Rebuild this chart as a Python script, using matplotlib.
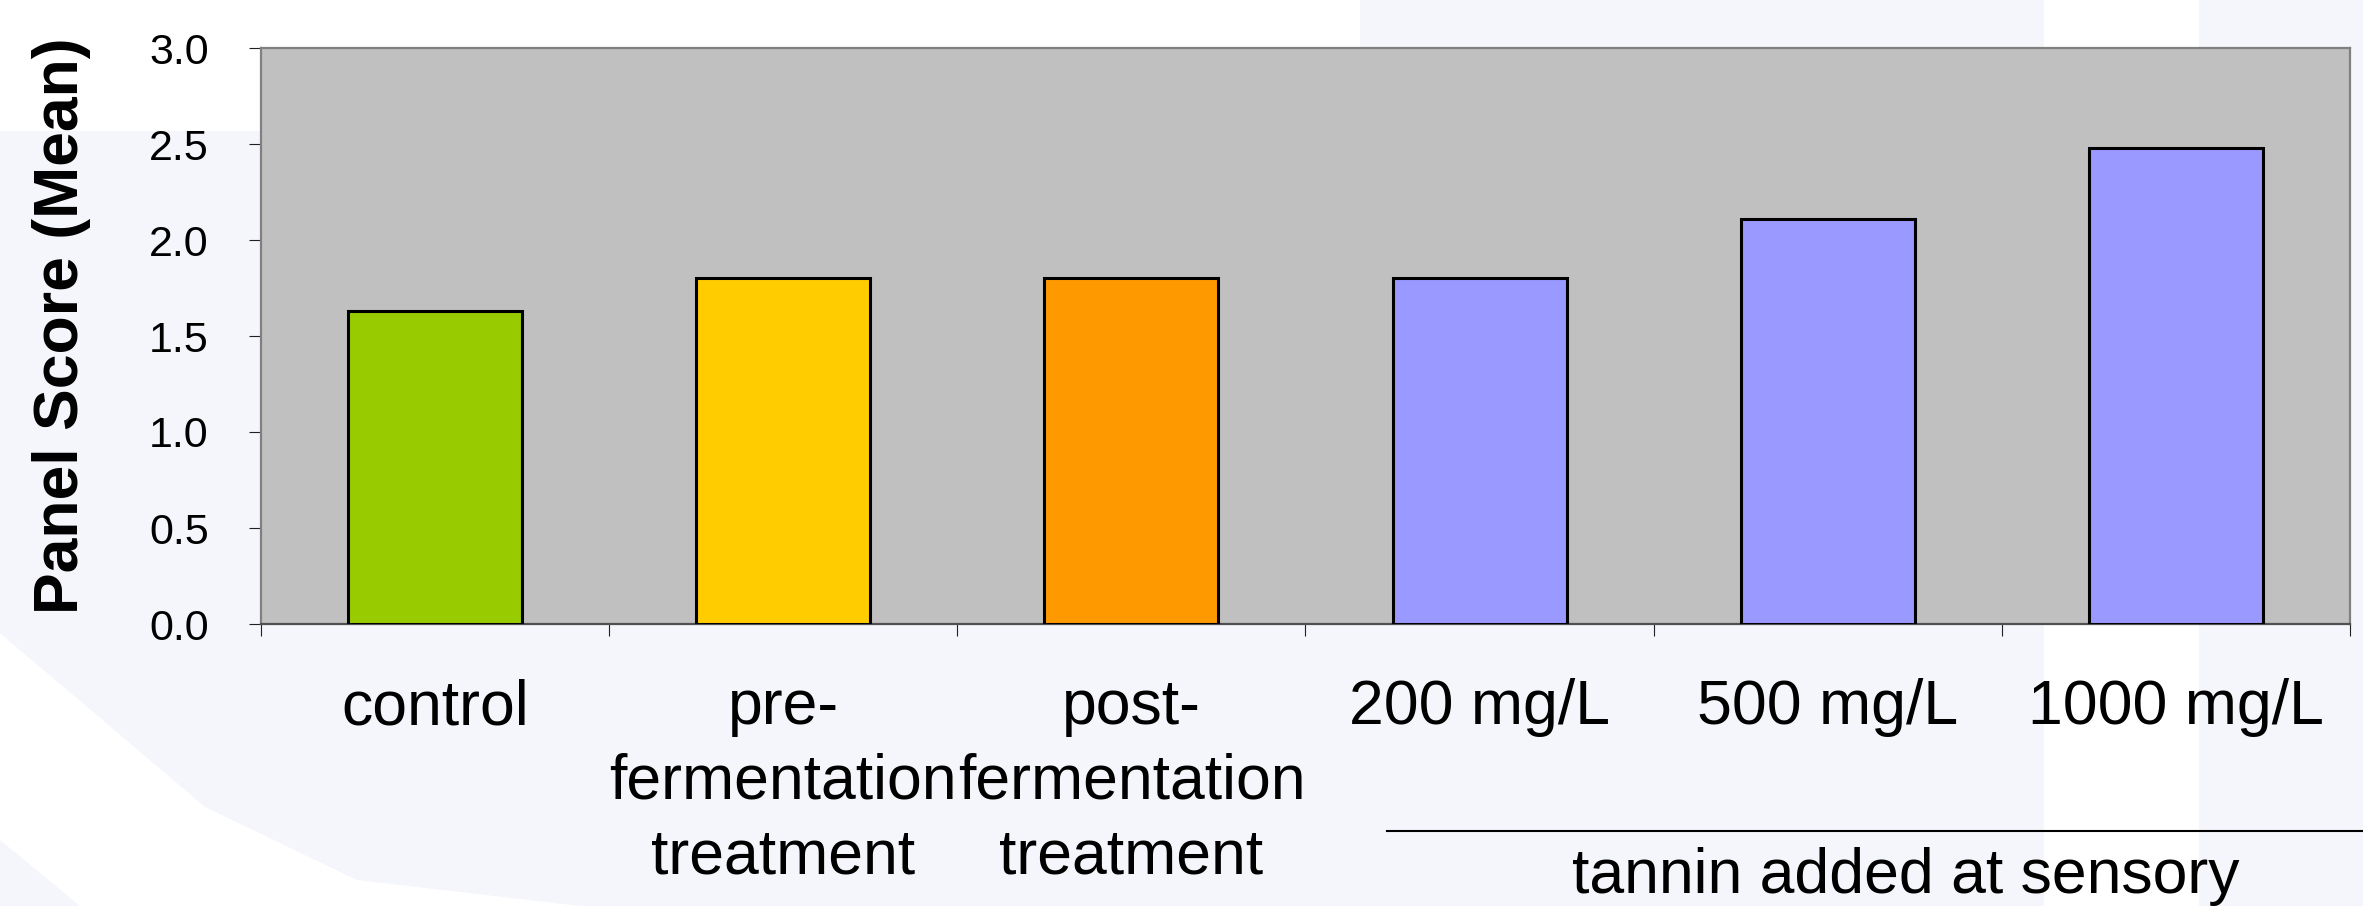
import numpy as np
import matplotlib
matplotlib.use('Agg')
import matplotlib.pyplot as plt
from matplotlib.patches import Polygon
from matplotlib.lines import Line2D

plt.rcParams['font.family'] = ['Liberation Sans', 'DejaVu Sans']

# data
categories = ['control', 'pre-\nfermentation\ntreatment', 'post-\nfermentation\ntreatment',
              '200 mg/L', '500 mg/L', '1000 mg/L']
scores = [1.63, 1.80, 1.80, 1.80, 2.11, 2.48]
bar_colors = ['#99CC00', '#FFCC00', '#FF9900', '#9999FF', '#9999FF', '#9999FF']
yticks = [0.0, 0.5, 1.0, 1.5, 2.0, 2.5, 3.0]
group_label = 'tannin added at sensory'

W, H = 2363, 906
fig = plt.figure(figsize=(W / 100, H / 100), dpi=100)
fig.patch.set_facecolor('#F5F6FB')

# slide background swooshes (rough), drawn in pixel coords on a back layer
bg_ax = fig.add_axes([0, 0, 1, 1], zorder=-1)
bg_ax.set_xlim(0, W)
bg_ax.set_ylim(H, 0)
bg_ax.axis('off')
bg_shapes = [
    [(0, 0), (1360, 0), (1360, 48), (261, 48), (261, 131), (0, 131)],
    [(0, 633), (205, 807), (357, 880), (580, 906), (80, 906), (0, 840)],
    [(2044, 0), (2199, 0), (2199, 906), (2044, 906)],
]
for pts in bg_shapes:
    bg_ax.add_patch(Polygon(pts, closed=True, facecolor='white', edgecolor='none'))

ax = fig.add_axes([261 / W, 1 - 624 / H, (2350 - 261) / W, (624 - 48) / H], zorder=1)
ax.set_facecolor('#C0C0C0')

x = np.arange(len(categories))
ax.bar(x, scores, width=0.5, color=bar_colors, edgecolor='black', linewidth=2.2, zorder=3)

ax.set_xlim(-0.5, len(categories) - 0.5)
ax.set_ylim(0, 3)

# ticks at category boundaries, labels at centres
ax.set_xticks(np.arange(-0.5, len(categories), 1.0))
ax.set_xticklabels([])
ax.set_xticks(x, minor=True)
ax.set_xticklabels(categories, minor=True, fontsize=45, linespacing=1.34)
ax.tick_params(axis='x', which='major', direction='out', length=8.6, width=0.8, color='#202020')
ax.tick_params(axis='x', which='minor', length=0, pad=39)

ax.set_yticks(yticks)
ax.set_yticklabels(['%.1f' % t for t in yticks], fontsize=31)
ax.tick_params(axis='y', direction='out', length=8.6, width=0.8, color='#202020', pad=29)

for side in ['left', 'top', 'right']:
    ax.spines[side].set_color('#808080')
    ax.spines[side].set_linewidth(1.6)
ax.spines['bottom'].set_color('#505050')
ax.spines['bottom'].set_linewidth(1.6)

fig.text(62 / W, 1 - 326 / H, 'Panel Score (Mean)', rotation=90, ha='center', va='center',
         fontsize=45, fontweight='bold')

# group bracket for tannin additions
fig.add_artist(Line2D([1387 / W, 1.0], [1 - 831 / H, 1 - 831 / H], color='black', linewidth=1.5))
fig.text(1906 / W, 1 - 893 / H, group_label, ha='center', va='baseline', fontsize=45)

fig.savefig('out.png', dpi=100, facecolor=fig.get_facecolor())
